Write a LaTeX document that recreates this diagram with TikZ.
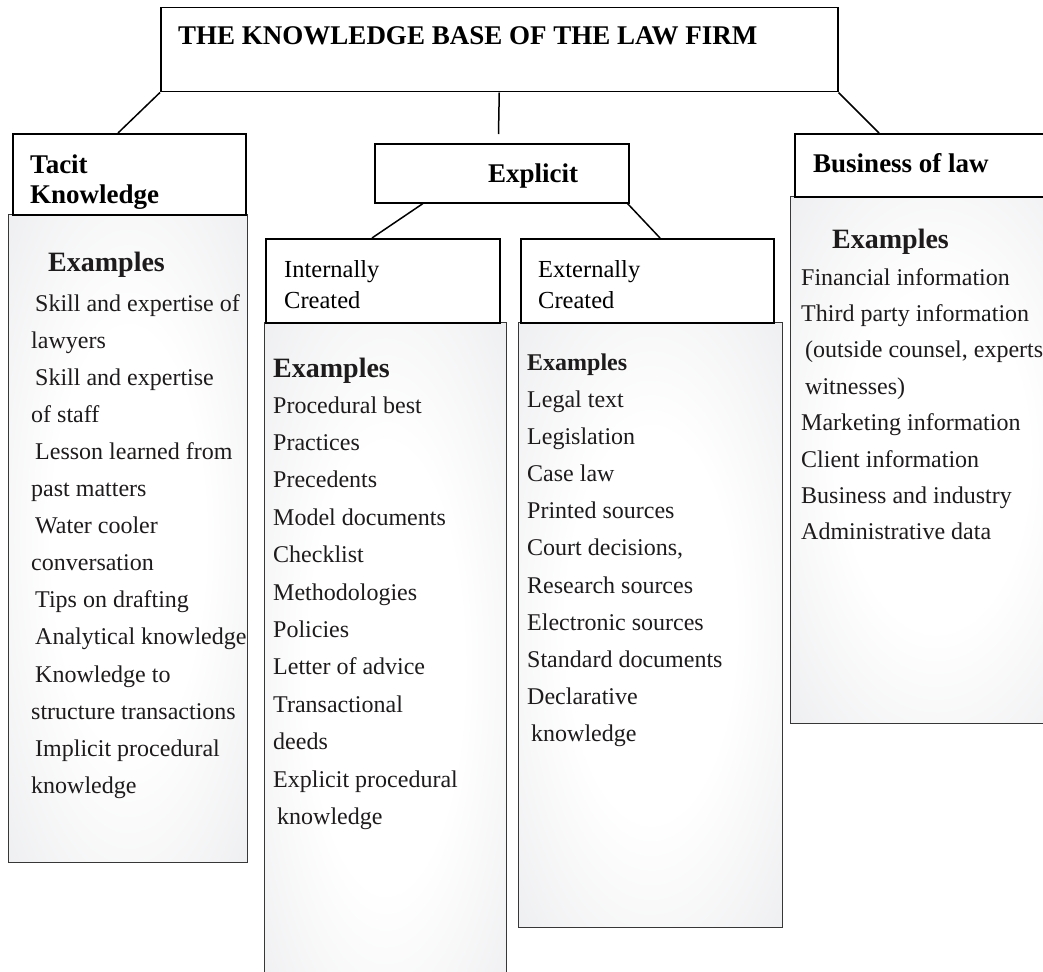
\documentclass[tikz,border=0pt]{standalone}
\usepackage{fontspec}
\setmainfont{Liberation Serif}
\usetikzlibrary{calc}

\definecolor{ink}{RGB}{30,27,28}
\definecolor{rim}{RGB}{55,55,55}
\definecolor{haze}{RGB}{226,227,230}
\definecolor{hazedeep}{RGB}{218,219,222}
\newcommand{\ind}{\hspace*{4pt}}

% soft glow: white core fading to light grey towards the rim
\pgfdeclareradialshading{panelglow}{\pgfpoint{0bp}{0bp}}{%
  color(0bp)=(white); color(16bp)=(white); color(50bp)=(haze); color(72bp)=(hazedeep)}

\tikzset{
  headbox/.style={draw=black, line width=1.5pt, fill=white, inner sep=0pt, anchor=north west},
  panel/.style={draw=rim, line width=1.4pt, shading=panelglow, inner sep=0pt, anchor=north west},
  link/.style={draw=black, line width=1.5pt},
  headtxt/.style={font=\fontsize{27}{30}\selectfont\bfseries, text=black, inner sep=0pt, anchor=base west},
  subtxt/.style={font=\fontsize{24.5}{30}\selectfont, text=black, inner sep=0pt, anchor=base west},
  extxt/.style={font=\fontsize{28}{30}\selectfont\bfseries, text=ink, inner sep=0pt, anchor=base west},
  itemtxt/.style={font=\fontsize{24}{30}\selectfont, text=ink, inner sep=0pt, anchor=base west},
}

\begin{document}
\begin{tikzpicture}[x=1pt, y=-1pt]
  \useasboundingbox (0,0) rectangle (1043,971);
  \clip (0,0) rectangle (1043,971);
  \fill[white] (0,0) rectangle (1043,971);

  % shaded example panels
  \node[panel, minimum width=239pt, minimum height=648pt] (tacitpanel) at (8,214) {};
  \node[panel, minimum width=242pt, minimum height=690pt] (intpanel) at (264,322) {};
  \node[panel, minimum width=264pt, minimum height=605pt] (extpanel) at (518,322) {};
  \node[panel, minimum width=290pt, minimum height=527pt] (buspanel) at (790,196) {};

  % heading boxes
  \node[headbox, minimum width=677pt, minimum height=84pt] (title) at (160,7) {};
  \node[headbox, minimum width=233pt, minimum height=81pt] (tacithead) at (12,133) {};
  \node[headbox, minimum width=254pt, minimum height=59pt] (explicit) at (374,143) {};
  \node[headbox, minimum width=234pt, minimum height=84pt] (inthead) at (265,238) {};
  \node[headbox, minimum width=253pt, minimum height=84pt] (exthead) at (520,238) {};
  \node[headbox, minimum width=290pt, minimum height=63pt] (bushead) at (794,133) {};

  % connectors
  \coordinate (drop) at (498.5,134);
  \draw[link] (title.south west) -- ($(tacithead.north west)+(106,0)$);
  \draw[link] (title.south) -- (drop);
  \draw[link] (title.south east) -- ($(bushead.north west)+(85,0)$);
  \draw[link] ($(explicit.south west)+(49,0)$) -- ($(inthead.north west)+(107,0)$);
  \draw[link] ($(explicit.south east)+(-2,0)$) -- ($(exthead.north west)+(140,0)$);

  % headings
  \node[headtxt] (titletxt) at (178,45) {THE KNOWLEDGE BASE OF THE LAW FIRM};
  \node[headtxt] (tacittxt) at (30,173) {Tacit};
  \node[headtxt] (knowtxt) at (30,203) {Knowledge};
  \node[headtxt] (explicittxt) at (488,182) {Explicit};
  \node[headtxt] (bustxt) at (813,172) {Business of law};
  \node[subtxt] (inttxt) at (284,277) {Internally};
  \node[subtxt] (intcr) at (284,308) {Created};
  \node[subtxt] (exttxt) at (538,277) {Externally};
  \node[subtxt] (extcr) at (538,308) {Created};

  % "Examples" captions
  \node[extxt] (tacitex) at (48,271) {Examples};
  \node[extxt] (intex) at (273,377) {Examples};
  \node[extxt, font=\fontsize{24}{30}\selectfont\bfseries] (extex) at (527,370) {Examples};
  \node[extxt] (busex) at (832,248) {Examples};

  % example lists
  \foreach \t [count=\i] in {\ind Skill and expertise of, lawyers, \ind Skill and expertise,
      of staff, \ind Lesson learned from, past matters, \ind Water cooler, conversation,
      \ind Tips on drafting, \ind Analytical knowledge, \ind Knowledge to,
      structure transactions, \ind Implicit procedural, knowledge}
    \node[itemtxt] (tacititem\i) at (31,{311+(\i-1)*37.1}) {\t};

  \foreach \t [count=\i] in {Procedural best, Practices, Precedents, Model documents,
      Checklist, Methodologies, Policies, Letter of advice, Transactional, deeds,
      Explicit procedural, \ind knowledge}
    \node[itemtxt] (intitem\i) at (273,{413+(\i-1)*37.4}) {\t};

  \foreach \t [count=\i] in {Legal text, Legislation, Case law, Printed sources,
      {Court decisions,}, Research sources, Electronic sources, Standard documents,
      Declarative, \ind knowledge}
    \node[itemtxt] (extitem\i) at (527,{407+(\i-1)*37.2}) {\t};

  \foreach \t [count=\i] in {Financial information, Third party information,
      {\ind (outside counsel, experts}, \ind witnesses), Marketing information,
      Client information, Business and industry, Administrative data}
    \node[itemtxt] (busitem\i) at (801,{285+(\i-1)*36.4}) {\t};
\end{tikzpicture}
\end{document}
